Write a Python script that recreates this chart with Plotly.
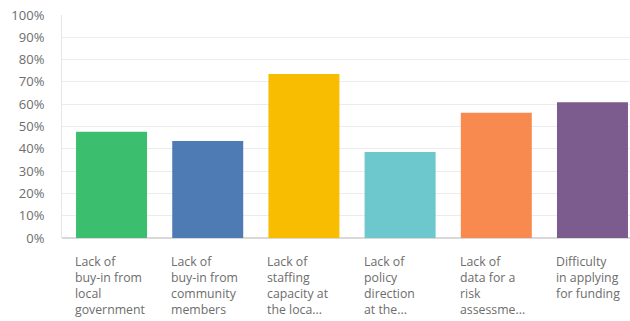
import plotly.graph_objects as go

categories = [
    "Lack of<br>buy-in from<br>local<br>government",
    "Lack of<br>buy-in from<br>community<br>members",
    "Lack of<br>staffing<br>capacity at<br>the loca...",
    "Lack of<br>policy<br>direction<br>at the...",
    "Lack of<br>data for a<br>risk<br>assessme...",
    "Difficulty<br>in applying<br>for funding",
]
values = [47.7, 43.5, 73.5, 38.6, 56.2, 60.9]
colors = ["#3cbe6f", "#4f7bb5", "#f8bd00", "#6cc8cc", "#f88a4f", "#7c5c8e"]
tick_vals = [0, 10, 20, 30, 40, 50, 60, 70, 80, 90, 100]
tick_text = [f"{v}%" for v in tick_vals]

font_family = "Open Sans"
text_color = "#6d6d6d"

x_idx = list(range(len(categories)))

fig = go.Figure()
fig.add_trace(go.Bar(
    x=x_idx,
    y=values,
    marker=dict(color=colors, line=dict(width=0)),
    width=0.738,
    hoverinfo="skip",
))

annotations = []
for i, cat in enumerate(categories):
    annotations.append(dict(
        x=i - 0.40, xref="x", xanchor="left",
        y=0, yref="paper", yanchor="top", yshift=-13,
        text=cat, showarrow=False, align="left",
        font=dict(family=font_family, size=12.3, color=text_color),
    ))

fig.update_layout(
    width=630, height=321,
    margin=dict(l=62, r=0, t=15, b=83),
    paper_bgcolor="white",
    plot_bgcolor="white",
    showlegend=False,
    font=dict(family=font_family, size=13, color=text_color),
    annotations=annotations,
    xaxis=dict(
        range=[-0.515, 5.39],
        showticklabels=False,
        showgrid=False,
        zeroline=False,
        showline=False,
        ticks="",
        fixedrange=True,
    ),
    yaxis=dict(
        range=[0, 100],
        tickvals=tick_vals,
        ticktext=tick_text,
        showgrid=True,
        gridcolor="#ececec",
        gridwidth=1,
        zeroline=True,
        zerolinecolor="#d9d9d9",
        zerolinewidth=1.5,
        showline=True,
        linecolor="#e6e6e6",
        linewidth=1,
        ticks="",
        ticklabelstandoff=14,
        tickfont=dict(family=font_family, size=13, color=text_color),
        fixedrange=True,
    ),
)

fig.write_html("out.html")
